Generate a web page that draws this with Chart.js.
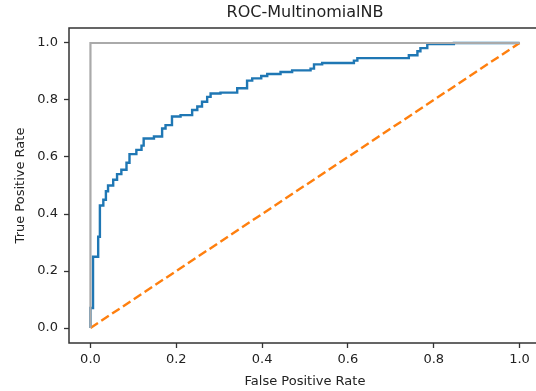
<!DOCTYPE html>
<html>
<head>
<meta charset="utf-8">
<script src="https://cdn.jsdelivr.net/npm/chart.js@4/dist/chart.umd.min.js"></script>
<style>
  html, body { margin: 0; padding: 0; background: #fff; overflow: hidden; }
  #wrap { width: 536px; height: 391px; overflow: hidden; }
</style>
</head>
<body>
<div id="wrap"><canvas id="roc" width="541" height="391"></canvas></div>
<script>
// ROC curve points (fpr where the step rises, tpr after the rise)
const fpr = [0, 0, 0.006, 0.018, 0.022, 0.030, 0.036, 0.041, 0.053, 0.062, 0.072, 0.084, 0.091,
  0.107, 0.119, 0.124, 0.148, 0.167, 0.175, 0.190, 0.210, 0.237, 0.249, 0.260, 0.272, 0.280,
  0.303, 0.342, 0.365, 0.377, 0.398, 0.412, 0.443, 0.470, 0.513, 0.521, 0.540, 0.614, 0.622,
  0.742, 0.762, 0.769, 0.785, 0.847, 1.0];
const tpr = [0, 0.07, 0.25, 0.32, 0.43, 0.45, 0.48, 0.50, 0.52, 0.54, 0.555, 0.58, 0.61,
  0.625, 0.64, 0.665, 0.672, 0.70, 0.712, 0.742, 0.747, 0.765, 0.777, 0.794, 0.811, 0.823,
  0.826, 0.841, 0.868, 0.876, 0.884, 0.891, 0.898, 0.904, 0.91, 0.925, 0.93, 0.938, 0.947,
  0.957, 0.971, 0.982, 0.996, 1.0, 1.0];

// chance line and perfect classifier
const chanceX = [0, 1];
const chanceY = [0, 1];
const perfectX = [0, 0, 1];
const perfectY = [0, 1, 1];

const xTicks = [0, 0.2, 0.4, 0.6, 0.8, 1.0];
const yTicks = [0, 0.2, 0.4, 0.6, 0.8, 1.0];

const toPts = (xs, ys) => xs.map((x, i) => ({ x: x, y: ys[i] }));

const txt = '#222';
const tickFont = { family: 'DejaVu Sans', size: 13 };

// cadre façon matplotlib
const spines = {
  id: 'spines',
  afterDatasetsDraw(chart) {
    const a = chart.chartArea;
    const ctx = chart.ctx;
    ctx.save();
    ctx.strokeStyle = '#333';
    ctx.lineWidth = 1.5;
    ctx.strokeRect(a.left, a.top, a.right - a.left, a.bottom - a.top);
    ctx.restore();
  }
};

new Chart(document.getElementById('roc').getContext('2d'), {
  type: 'scatter',
  data: {
    datasets: [
      {
        label: 'perfect',
        data: toPts(perfectX, perfectY),
        showLine: true,
        borderColor: '#aaaaaa',
        borderWidth: 2.2,
        pointRadius: 0,
        order: 0
      },
      {
        label: 'chance',
        data: toPts(chanceX, chanceY),
        showLine: true,
        borderColor: '#ff7f0e',
        borderWidth: 2.4,
        borderDash: [9, 4],
        pointRadius: 0,
        order: 1
      },
      {
        label: 'MultinomialNB',
        data: toPts(fpr, tpr),
        showLine: true,
        stepped: 'before',
        borderColor: '#1f77b4',
        borderWidth: 2.4,
        pointRadius: 0,
        order: 2
      }
    ]
  },
  options: {
    responsive: false,
    animation: false,
    layout: { padding: 0 },
    plugins: {
      legend: { display: false },
      tooltip: { enabled: false },
      title: {
        display: true,
        fullSize: false,
        text: 'ROC-MultinomialNB',
        color: txt,
        font: { family: 'DejaVu Sans', size: 16, weight: 'normal' },
        padding: { top: 3.5, bottom: 5.3 }
      }
    },
    scales: {
      x: {
        type: 'linear',
        min: -0.05,
        max: 1.05,
        afterFit: s => { s.height = 48; },
        afterBuildTicks: s => { s.ticks = xTicks.map(v => ({ value: v })); },
        grid: { drawOnChartArea: false, drawTicks: true, tickLength: 5, tickColor: '#333', tickWidth: 1.3 },
        border: { display: false },
        ticks: { color: txt, font: tickFont, padding: 4, maxRotation: 0, callback: v => v.toFixed(1) },
        title: { display: true, text: 'False Positive Rate', color: txt, font: tickFont, padding: { top: 0, bottom: 2 } }
      },
      y: {
        type: 'linear',
        min: -0.0526,
        max: 1.0526,
        afterFit: s => { s.width = 69; },
        afterBuildTicks: s => { s.ticks = yTicks.map(v => ({ value: v })); },
        grid: { drawOnChartArea: false, drawTicks: true, tickLength: 5, tickColor: '#333', tickWidth: 1.3 },
        border: { display: false },
        ticks: { color: txt, font: tickFont, padding: 6, callback: v => v.toFixed(1) },
        title: { display: true, text: 'True Positive Rate', color: txt, font: tickFont, padding: { top: 13, bottom: 0 } }
      }
    }
  },
  plugins: [spines]
});
</script>
</body>
</html>
